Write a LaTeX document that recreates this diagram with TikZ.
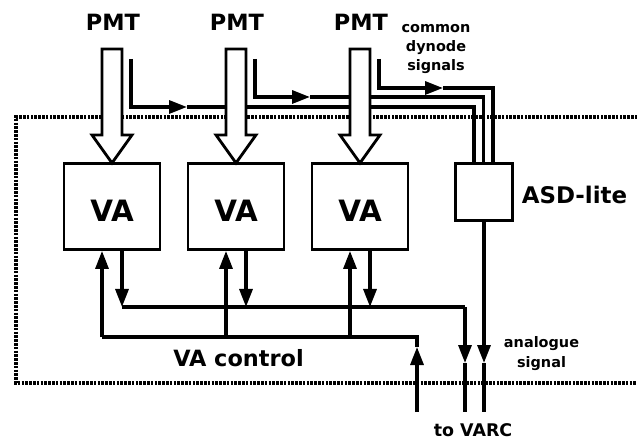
\documentclass[tikz,border=0pt]{standalone}
\usepackage{fontspec}
\setmainfont{DejaVu Sans}
\usetikzlibrary{arrows.meta}
\tikzset{
  sigline/.style={line width=3.2bp},
  sigtip/.style={line width=3.2bp,-{Triangle[length=18bp,width=13bp]}},
}
\begin{document}
\begin{tikzpicture}[x=1bp,y=-1bp,
  dotline/.style={line width=4bp,dash pattern=on 2.6bp off 1.2bp},
  vabox/.style={draw,line width=2.8bp,fill=white,minimum width=96bp,minimum height=86bp,inner sep=0pt,text height=31bp,font=\fontsize{29.5}{34}\selectfont\bfseries},
  asdbox/.style={draw,line width=2.8bp,fill=white,minimum width=57bp,minimum height=57bp,inner sep=0pt},
  hollow/.style={draw,line width=2.8bp,fill=white,line join=miter},
  pmtlabel/.style={font=\fontsize{22.5}{26}\selectfont\bfseries,inner sep=0pt},
  biglabel/.style={font=\fontsize{23}{26}\selectfont\bfseries,inner sep=0pt},
  smalllabel/.style={font=\fontsize{14.5}{19.5}\selectfont\bfseries,align=center,inner sep=0pt},
]
\useasboundingbox (0,0) rectangle (637,441);
\clip (0,0) rectangle (637,441);

% dotted enclosure
\draw[dotline] (645,117) -- (16,117) -- (16,383) -- (645,383);

% boxes
\node[vabox] (va1) at (112,206.5) {VA};
\node[vabox] (va2) at (236,206.5) {VA};
\node[vabox] (va3) at (360,206.5) {VA};
\node[asdbox] (asd) at (484,192) {};
\node[biglabel] (asdl) at (574.5,195) {ASD-lite};

% PMT labels
\node[pmtlabel] (pmt1) at (113,22) {PMT};
\node[pmtlabel] (pmt2) at (237,22) {PMT};
\node[pmtlabel] (pmt3) at (361,22) {PMT};

% common dynode signals
\coordinate (d1a) at (131,59);  \coordinate (d1b) at (131,107);
\coordinate (d1m) at (187,107); \coordinate (d1c) at (474,107);
\coordinate (d1d) at (474,163);
\coordinate (d2a) at (255,59);  \coordinate (d2b) at (255,97);
\coordinate (d2m) at (310,97);  \coordinate (d2c) at (483.5,97);
\coordinate (d2d) at (483.5,163);
\coordinate (d3a) at (379,59);  \coordinate (d3b) at (379,88);
\coordinate (d3m) at (443,88);  \coordinate (d3c) at (493,88);
\coordinate (d3d) at (493,163);
\draw[sigtip] (d1a) -- (d1b) -- (d1m);
\draw[sigline] (d1m) -- (d1c) -- (d1d);
\draw[sigtip] (d2a) -- (d2b) -- (d2m);
\draw[sigline] (d2m) -- (d2c) -- (d2d);
\draw[sigtip] (d3a) -- (d3b) -- (d3m);
\draw[sigline] (d3m) -- (d3c) -- (d3d);

\node[smalllabel] (cds) at (436,49) {common\\dynode\\signals};

% hollow PMT arrows
\foreach \x in {112,236,360} {
  \draw[hollow] (\x-10,49) -- (\x+10,49) -- (\x+10,135) -- (\x+20,135)
     -- (\x,163) -- (\x-20,135) -- (\x-10,135) -- cycle;
}

% analogue signal
\coordinate (an) at (484,363);
\coordinate (anend) at (484,412);
\draw[sigtip] (asd.south) -- (an);
\draw[sigline] (an) -- (anend);
\node[smalllabel] (anl) at (541.5,353.5) {analogue\\signal};

% output bus
\coordinate (o1) at (122,307);
\coordinate (o2) at (246,307);
\coordinate (o3) at (370,307);
\coordinate (ocorner) at (465,307);
\coordinate (om) at (465,363);
\coordinate (oend) at (465,412);
\draw[sigtip] (va1.south -| o1) -- (o1);
\draw[sigtip] (va2.south -| o2) -- (o2);
\draw[sigtip] (va3.south -| o3) -- (o3);
\draw[sigline] (o1) -- (ocorner);
\draw[sigtip] (ocorner) -- (om);
\draw[sigline] (om) -- (oend);

% control bus
\coordinate (c1) at (102,337);
\coordinate (c2) at (226,337);
\coordinate (c3) at (350,337);
\coordinate (ccorner) at (417,337);
\coordinate (cm) at (417,347);
\coordinate (cstart) at (417,412);
\draw[sigtip] (cstart) -- (cm);
\draw[sigline] (cm) -- (ccorner) -- (c1);
\draw[sigtip] (c1) -- (va1.south -| c1);
\draw[sigtip] (c2) -- (va2.south -| c2);
\draw[sigtip] (c3) -- (va3.south -| c3);

\node[biglabel,font=\fontsize{22.5}{26}\selectfont\bfseries] (vac) at (238.5,358) {VA control};
\node[pmtlabel,font=\fontsize{17.5}{21}\selectfont\bfseries] (varc) at (473,430) {to VARC};
\end{tikzpicture}
\end{document}
